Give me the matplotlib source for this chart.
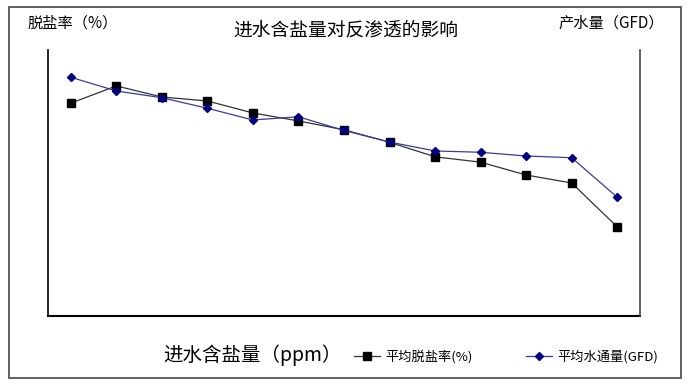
import numpy as np
import matplotlib
matplotlib.use("Agg")
import matplotlib.pyplot as plt
from matplotlib.patches import Rectangle

plt.rcParams['font.family'] = ['Noto Sans CJK SC', 'DejaVu Sans']

# feed salt content categories (no tick labels shown on the chart)
feed_ppm = ["500", "1000", "2000", "3000", "4000", "5000", "6000",
            "7000", "8000", "9000", "10000", "12000", "15000"]
# average salt rejection (%), left axis
rejection = [98.80, 99.19, 98.94, 98.85, 98.58, 98.40, 98.20,
             97.92, 97.59, 97.47, 97.18, 97.00, 96.01]
# average water flux (GFD), right axis
flux = [17.95, 16.92, 16.41, 15.62, 14.74, 14.98, 13.95,
        13.08, 12.41, 12.31, 12.03, 11.90, 8.93]

fig = plt.figure(figsize=(6.92, 3.84), dpi=100)
ax = fig.add_axes([48 / 692, 68 / 384, 592 / 692, 266 / 384])
ax2 = ax.twinx()

x = np.arange(len(feed_ppm))
l1, = ax.plot(x, rejection, color="#333333", lw=0.9, marker="s",
              markersize=5.5, markerfacecolor="black", markeredgecolor="black",
              label="平均脱盐率(%)", zorder=3)
l2, = ax2.plot(x, flux, color="#3a3aa0", lw=0.9, marker="D",
               markersize=4.5, markerfacecolor="#000080", markeredgecolor="#000080",
               label="平均水通量(GFD)", zorder=4)

ax.set_xlim(-0.5, len(feed_ppm) - 0.5)
ax.set_ylim(94, 100)
ax2.set_ylim(0, 20)

for a in (ax, ax2):
    a.set_xticks([])
    a.set_yticks([])
    a.spines["top"].set_visible(False)
ax.spines["right"].set_visible(False)
ax2.spines["left"].set_visible(False)
ax2.spines["bottom"].set_visible(False)
ax.spines["left"].set_linewidth(1.2)
ax.spines["bottom"].set_linewidth(1.5)
ax2.spines["right"].set_color("#444444")
ax2.spines["right"].set_linewidth(1.2)

fig.text(28 / 692, 1 - 23 / 384, "脱盐率（%）", fontsize=11, va="center", ha="left")
fig.text(346 / 692, 1 - 30 / 384, "进水含盐量对反渗透的影响", fontsize=13.5,
         va="center", ha="center")
fig.text(664 / 692, 1 - 23 / 384, "产水量（GFD）", fontsize=11, va="center", ha="right")
fig.text(163 / 692, 1 - 355 / 384, "进水含盐量（ppm）", fontsize=14, va="center", ha="left")

fig.legend(handles=[l1, l2], loc="center", bbox_to_anchor=(506 / 692, 1 - 357 / 384),
           ncol=2, frameon=False, fontsize=9.5, handlelength=2.0,
           columnspacing=4.0, handletextpad=0.4, borderpad=0)

fig.patches.append(Rectangle((9 / 692, 6 / 384), 672 / 692, 371 / 384,
                             transform=fig.transFigure, fill=False,
                             edgecolor="#555555", lw=1.3))

fig.savefig("out.png", dpi=100)
